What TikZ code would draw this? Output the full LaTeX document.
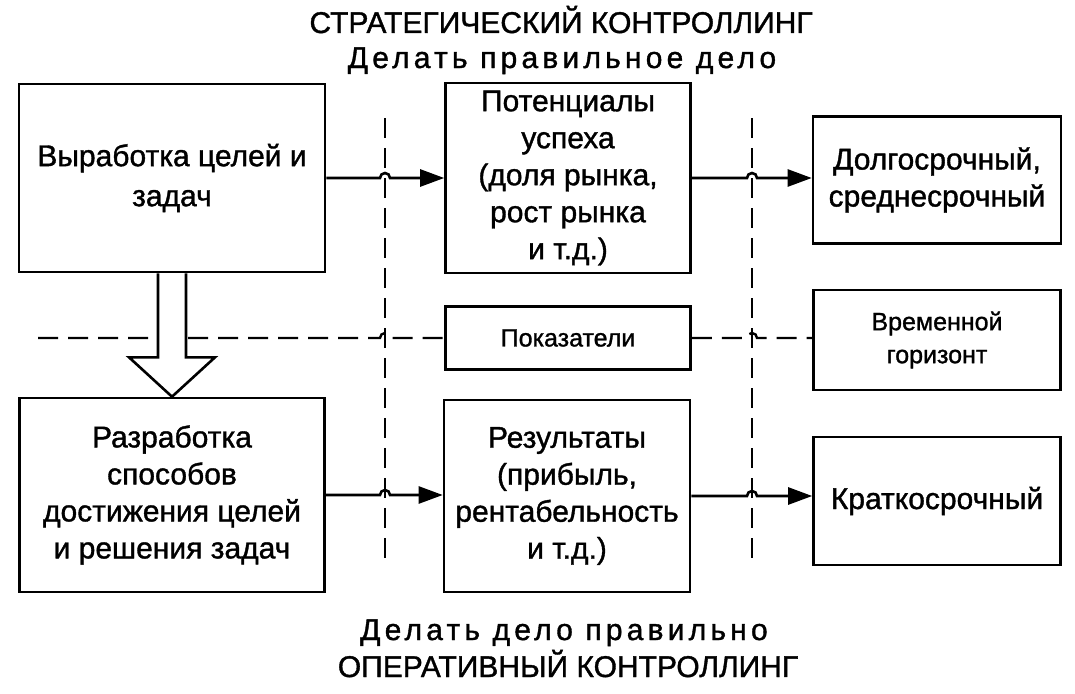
\documentclass[tikz,border=0pt]{standalone}
\usepackage{fontspec}
\setmainfont{Liberation Sans}[FakeBold=1.2]
\usetikzlibrary{arrows.meta,calc}
\begin{document}
\begin{tikzpicture}[x=1pt,y=-1pt,
  box/.style={draw, line width=2.6pt, align=center, inner sep=0pt, font=\fontsize{30}{37}\selectfont},
  sbox/.style={box, font=\fontsize{25}{33}\selectfont},
  conn/.style={line width=2.6pt, -{Triangle[length=24pt,width=17pt]}},
  dsh/.style={line width=2.4pt, dash pattern=on 20pt off 10pt},
  ttl/.style={font=\fontsize{30}{36}\selectfont, anchor=base},
  sttl/.style={font=\fontsize{30}{36}\selectfont\addfontfeature{LetterSpace=14}, anchor=base}
]
\useasboundingbox (0,0) rectangle (1075,693);

% titles
\node[ttl]  (t1) at (561,33) {СТРАТЕГИЧЕСКИЙ КОНТРОЛЛИНГ};
\node[sttl] (t2) at (562,68) {Делать правильное дело};
\node[sttl] (b1) at (564,640) {Делать дело правильно};
\node[ttl]  (b2) at (568,677) {ОПЕРАТИВНЫЙ КОНТРОЛЛИНГ};

% boxes
\node[box, minimum width=306pt, minimum height=188pt] (A) at (172,178) {Выработка целей и\\[3pt]задач};
\node[box, minimum width=245pt, minimum height=190pt] (C) at (568,178) {Потенциалы\\успеха\\(доля рынка,\\рост рынка\\и т.д.)};
\node[box, minimum width=248pt, minimum height=127pt] (D) at (937,180) {Долгосрочный,\\среднесрочный};
\node[sbox, minimum width=245pt, minimum height=63pt] (P) at (568,338) {Показатели};
\node[sbox, minimum width=247pt, minimum height=100pt] (H) at (937,340) {Временной\\горизонт};
\node[box, minimum width=305pt, minimum height=194pt] (B) at (172,495) {Разработка\\способов\\достижения целей\\и решения задач};
\node[box, minimum width=246pt, minimum height=192pt] (E) at (567,496) {Результаты\\(прибыль,\\рентабельность\\и т.д.)};
\node[box, minimum width=247pt, minimum height=128pt] (K) at (937,501) {Краткосрочный};

% vertical dashed lines
\coordinate (v1t) at (385,118);
\coordinate (v1b) at (385,560);
\coordinate (v2t) at (752,118);
\coordinate (v2b) at (752,562);
\coordinate (dl) at (38,338);
\draw[dsh] (v1t) -- (v1b);
\draw[dsh] (v2t) -- (v2b);

% horizontal dashed line with jumps
\draw[dsh] (dl) -- ($(v1t|-dl)+(-5,0)$) arc[start angle=180,end angle=0,radius=5pt] -- (P.west);
\draw[dsh] (P.east) -- ($(v2t|-P.east)+(-5,0)$) arc[start angle=180,end angle=0,radius=5pt] -- (H.west|-P.east);

% hollow arrow
\draw[line width=2.6pt, fill=white, line join=miter]
  ($(A.south)+(-14,0)$) -- ++(0,84) -- ++(-29,0) -- (B.north)
  -- ($(A.south)+(43,84)$) -- ++(-29,0) -- ($(A.south)+(14,0)$);

% solid arrows with jumps
\draw[conn] (A.east) -- ($(v1t|-A.east)+(-5,0)$) arc[start angle=180,end angle=0,radius=5pt] -- (C.west);
\draw[conn] (C.east) -- ($(v2t|-C.east)+(-5,0)$) arc[start angle=180,end angle=0,radius=5pt] -- (D.west|-C.east);
\draw[conn] (B.east) -- ($(v1t|-B.east)+(-5,0)$) arc[start angle=180,end angle=0,radius=5pt] -- (E.west|-B.east);
\draw[conn] (E.east) -- ($(v2t|-E.east)+(-5,0)$) arc[start angle=180,end angle=0,radius=5pt] -- (K.west|-E.east);
\end{tikzpicture}
\end{document}
